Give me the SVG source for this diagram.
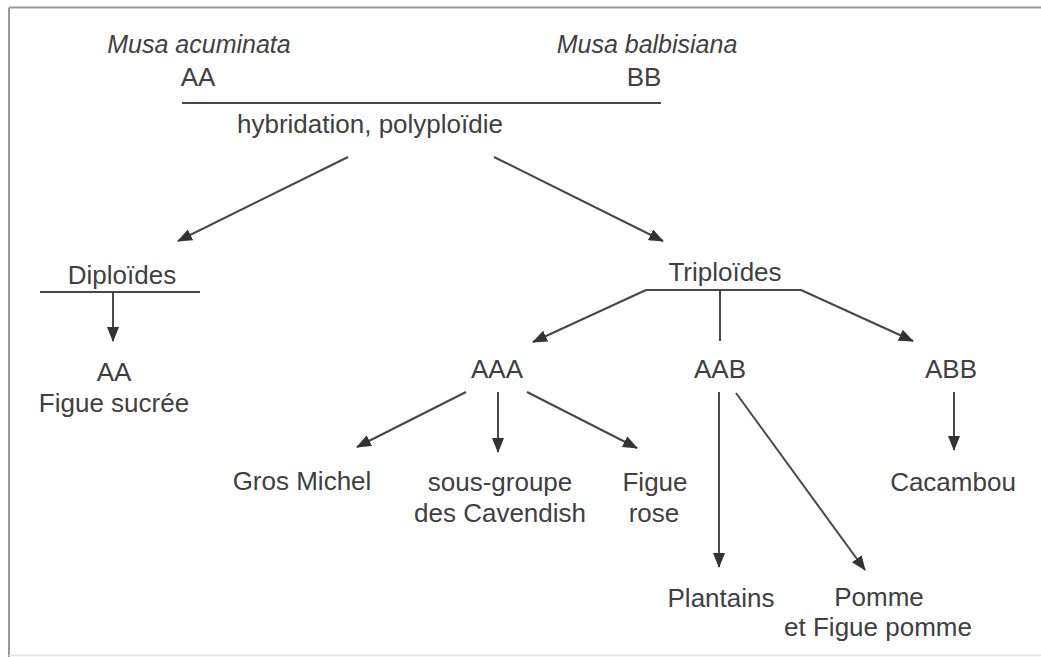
<svg xmlns="http://www.w3.org/2000/svg" width="1041" height="657" viewBox="0 0 1041 657">
<style>
text{font-family:"Liberation Sans",Arial,sans-serif;font-size:26px;fill:#404040;text-anchor:middle}
.it{font-style:italic;font-size:25px}
.ln{stroke:#474747;stroke-width:2;fill:none}
.ar{stroke:#474747;stroke-width:2;fill:none;marker-end:url(#ah)}
</style>
<defs>
<marker id="ah" markerUnits="userSpaceOnUse" markerWidth="15" markerHeight="12" refX="14" refY="6" orient="auto" viewBox="0 0 15 12">
<path d="M0,0 L15,6 L0,12 Z" fill="#333"/>
</marker>
</defs>
<rect width="1041" height="657" fill="#fff"/>
<g id="frame">
<line x1="9" y1="7.5" x2="1041" y2="7.5" stroke="#999" stroke-width="2"/>
<line x1="9" y1="7.5" x2="9" y2="657" stroke="#999" stroke-width="2"/>
<line x1="9" y1="655.5" x2="1041" y2="655.5" stroke="#e2e2e2" stroke-width="1.5"/>
</g>
<g id="connectors">
<line class="ln" x1="182" y1="103" x2="661" y2="103"/>
<line class="ar" x1="348" y1="157" x2="178" y2="241"/>
<line class="ar" x1="494" y1="157" x2="663" y2="241"/>
<line class="ln" x1="40" y1="292" x2="200" y2="292"/>
<line class="ar" x1="113" y1="292" x2="113" y2="341"/>
<line class="ln" x1="646" y1="290" x2="801" y2="290"/>
<line class="ar" x1="646" y1="290" x2="533" y2="342"/>
<line class="ln" x1="720" y1="290" x2="720" y2="341"/>
<line class="ar" x1="801" y1="290" x2="913" y2="341"/>
<line class="ar" x1="466" y1="392" x2="357" y2="447"/>
<line class="ar" x1="498" y1="392" x2="498" y2="452"/>
<line class="ar" x1="527" y1="392" x2="637" y2="448"/>
<line class="ar" x1="719" y1="392" x2="719" y2="567"/>
<line class="ar" x1="736" y1="393" x2="865" y2="570"/>
<line class="ar" x1="954" y1="392" x2="954" y2="450"/>
</g>
<g id="musa-acuminata"><text class="it" x="199" y="53">Musa acuminata</text><text x="198" y="86">AA</text></g>
<g id="musa-balbisiana"><text class="it" x="647" y="53">Musa balbisiana</text><text x="644" y="86">BB</text></g>
<g id="hybridation"><text x="370" y="133">hybridation, polyploïdie</text></g>
<g id="diploides"><text x="122" y="284">Diploïdes</text></g>
<g id="aa"><text x="114" y="381">AA</text><text x="114" y="412">Figue sucrée</text></g>
<g id="triploides"><text x="725" y="281">Triploïdes</text></g>
<g id="aaa"><text x="497" y="378">AAA</text></g>
<g id="aab"><text x="720" y="378">AAB</text></g>
<g id="abb"><text x="951" y="378">ABB</text></g>
<g id="gros-michel"><text x="302" y="490">Gros Michel</text></g>
<g id="cavendish"><text x="500" y="491">sous-groupe</text><text x="500" y="522">des Cavendish</text></g>
<g id="figue-rose"><text x="655" y="491">Figue</text><text x="654" y="522">rose</text></g>
<g id="cacambou"><text x="953" y="491">Cacambou</text></g>
<g id="plantains"><text x="721" y="607">Plantains</text></g>
<g id="pomme"><text x="879" y="606">Pomme</text><text x="878" y="636">et Figue pomme</text></g>
</svg>
